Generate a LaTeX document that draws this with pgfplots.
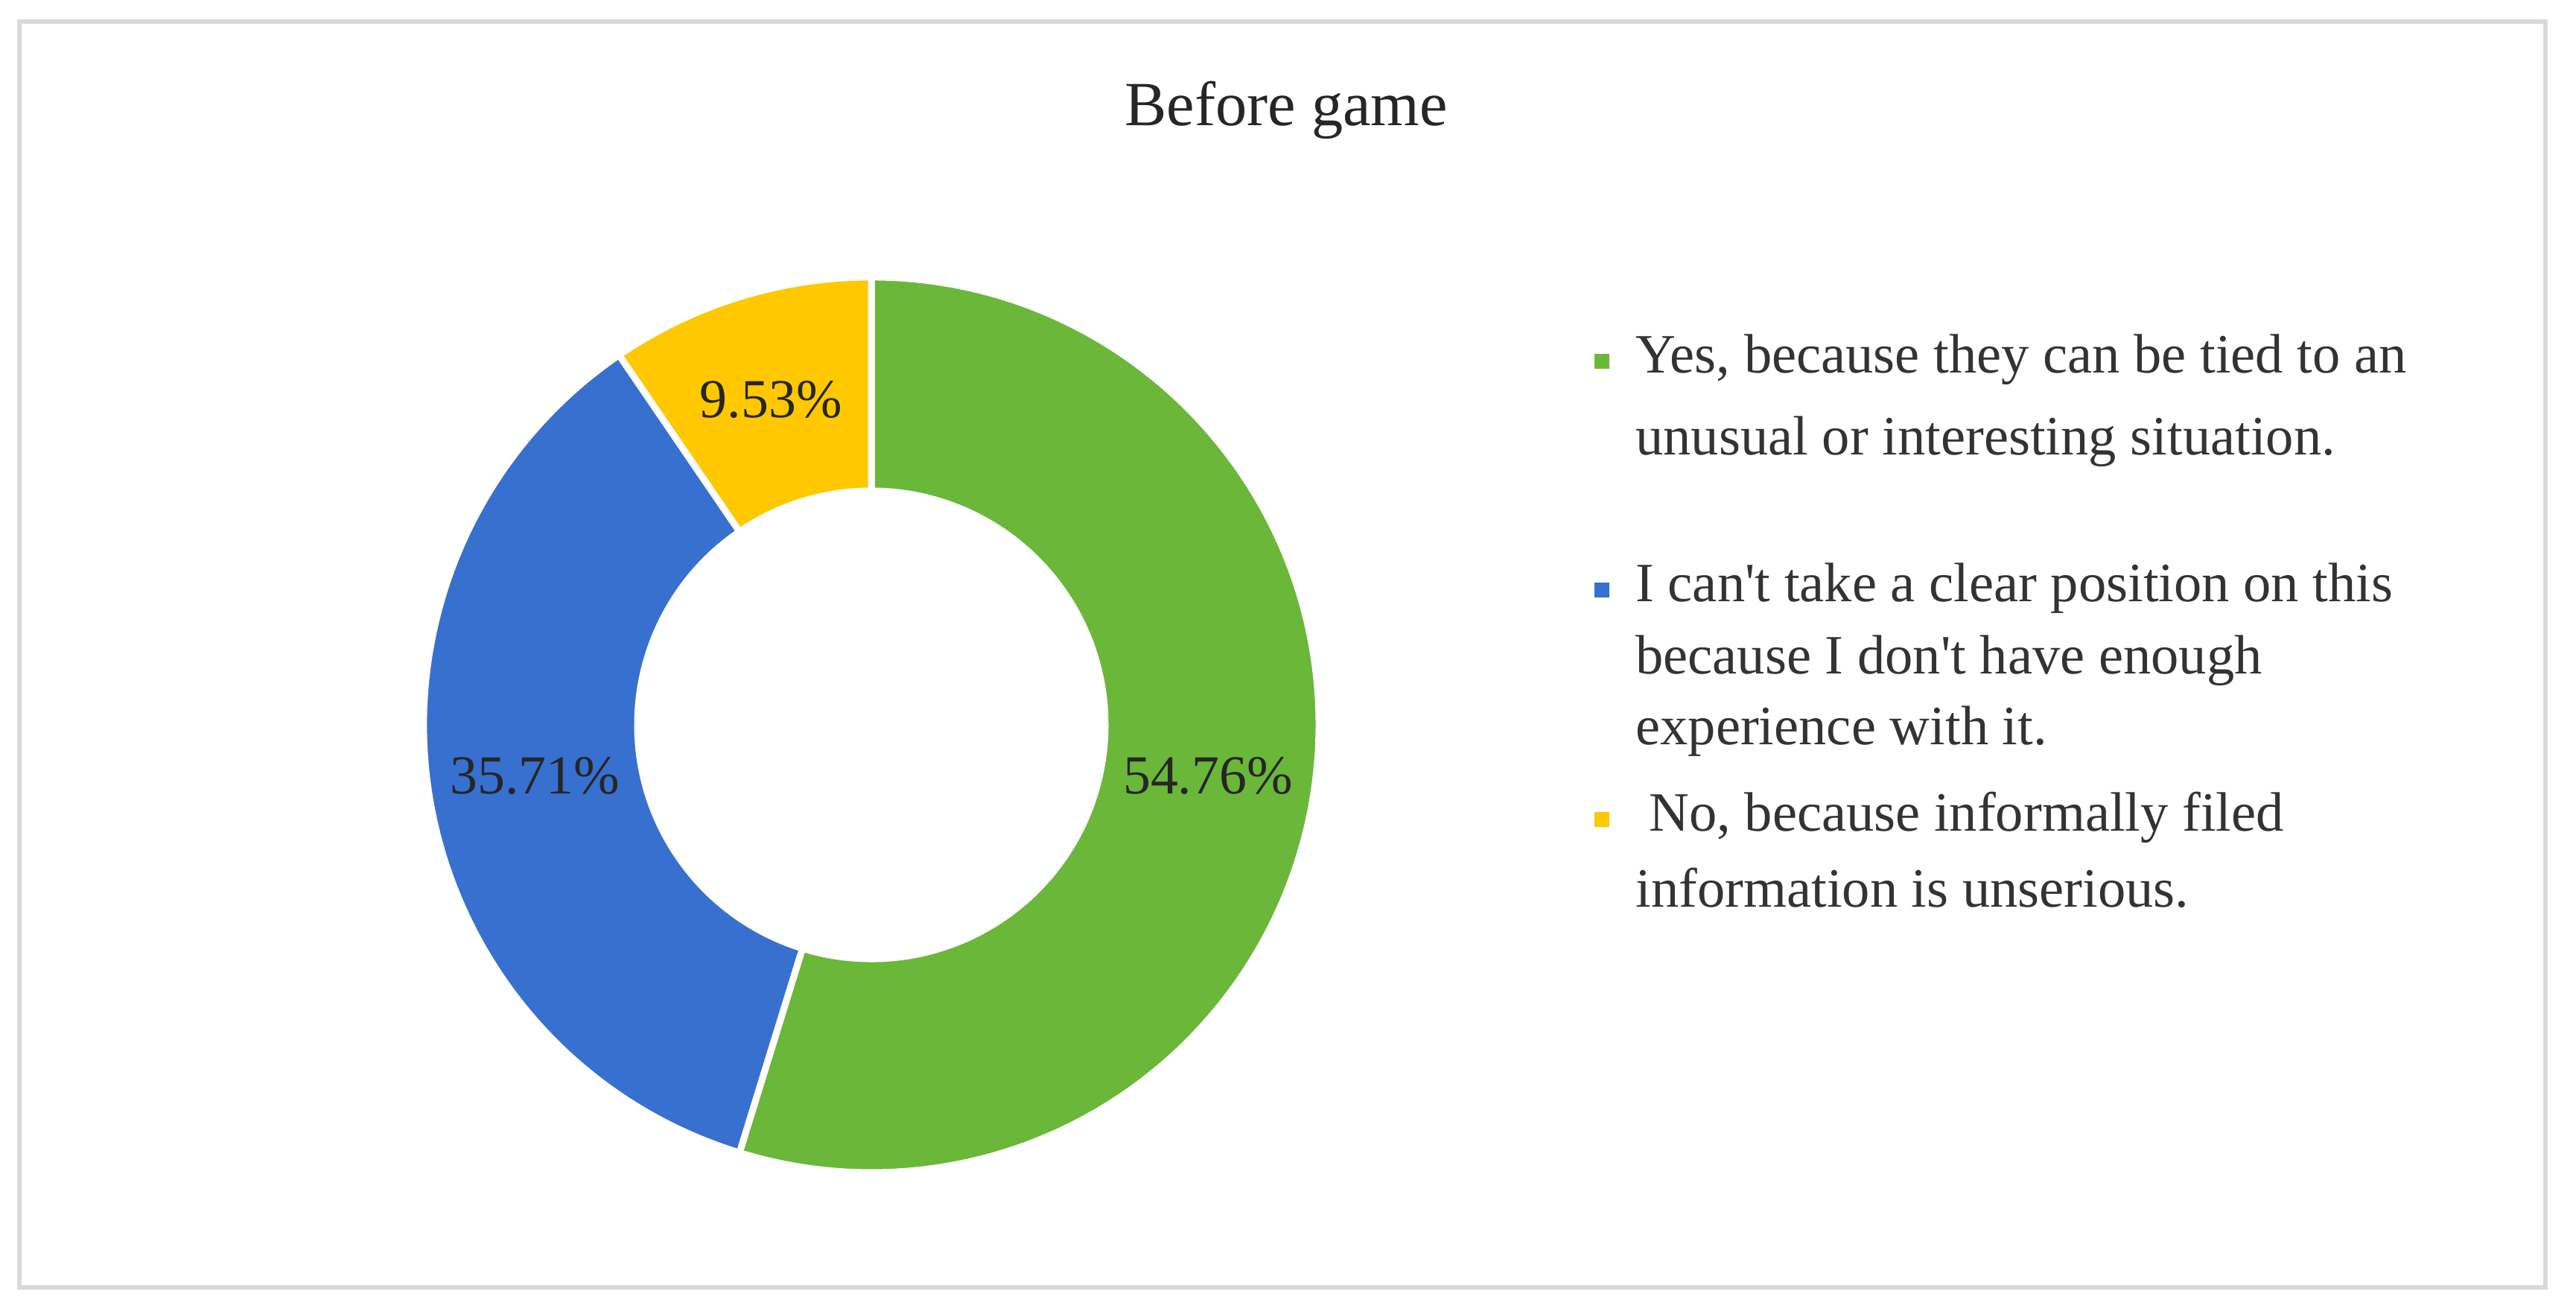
\documentclass[border=0pt]{standalone}
\usepackage{fontspec}
\setmainfont{Liberation Serif}
\usepackage{pgfplots}
\usepackage{pgfplotstable}
\pgfplotsset{compat=1.18}
\definecolor{ringgreen}{RGB}{107,183,57}
\definecolor{ringblue}{RGB}{55,112,207}
\definecolor{ringyellow}{RGB}{255,200,0}
\definecolor{framegray}{RGB}{217,217,217}

% shares of the answers, in percent, clockwise from the top
\pgfplotstableread{
answer value
yes    54.76
cant   35.71
no     9.53
}\donutdata

\pgfplotstablegetelem{0}{value}\of\donutdata \let\vA\pgfplotsretval
\pgfplotstablegetelem{1}{value}\of\donutdata \let\vB\pgfplotsretval
\pgfplotstablegetelem{2}{value}\of\donutdata \let\vC\pgfplotsretval
\pgfmathsetmacro\aA{90}
\pgfmathsetmacro\aB{\aA-3.6*\vA}
\pgfmathsetmacro\aC{\aB-3.6*\vB}
\pgfmathsetmacro\aD{\aC-3.6*\vC}
\pgfmathsetmacro\mA{(\aA+\aB)/2}
\pgfmathsetmacro\mB{(\aB+\aC)/2}
\pgfmathsetmacro\mC{(\aC+\aD)/2}

% ring geometry (axis units are pixels of the picture)
\def\cx{1170}\def\cy{776}
\def\Rout{30.05mm}\def\Rin{15.7mm}\def\Rmid{22.85mm}

\newcommand{\ringseg}[3]{%
  \fill[#3, draw=white, line width=0.45mm, line join=round]
    ([shift={(#1:\Rout)}]axis cs:\cx,\cy)
    arc[start angle=#1, end angle=#2, radius=\Rout]
    -- ([shift={(#2:\Rin)}]axis cs:\cx,\cy)
    arc[start angle=#2, end angle=#1, radius=\Rin] -- cycle;}

\begin{document}
\begin{tikzpicture}
\begin{axis}[
    x=0.05mm, y=0.05mm,
    xmin=0, xmax=3459, ymin=0, ymax=1749,
    hide axis, clip=false,
    scale only axis,
]
\path (axis cs:0,0) rectangle (axis cs:3459,1749);
\draw[framegray, line width=0.3mm] (axis cs:26,21) rectangle (axis cs:3418,1720);

\node[font=\fontsize{12}{14}\selectfont, text=black!85] at (axis cs:1727,1601) {Before game};

\ringseg{\aA}{\aB}{ringgreen}
\ringseg{\aB}{\aC}{ringblue}
\ringseg{\aC}{\aD}{ringyellow}

\begin{scope}[every node/.style={font=\fontsize{10.5}{12}\selectfont, text=black!85}]
\node at ([shift={(\mA:\Rmid)}]axis cs:\cx,\cy) {54.76\%};
\node at ([shift={(\mB:\Rmid)}]axis cs:\cx,\cy) {35.71\%};
\node at ([shift={(\mC:\Rmid)}]axis cs:\cx,\cy) {9.53\%};
\end{scope}

\begin{scope}[every node/.style={font=\fontsize{10.6}{12}\selectfont, text=black!80, anchor=west, inner sep=0pt, text height=1.5ex, text depth=0.3ex}]
\fill[ringgreen] (axis cs:2151,1264) ++(-0.5mm,-0.5mm) rectangle ++(1mm,1mm);
\fill[ringblue] (axis cs:2151,957) ++(-0.5mm,-0.5mm) rectangle ++(1mm,1mm);
\fill[ringyellow] (axis cs:2151,649) ++(-0.5mm,-0.5mm) rectangle ++(1mm,1mm);
\node at (axis cs:2195,1268) {Yes, because they can be tied to an};
\node at (axis cs:2195,1158) {unusual or interesting situation.};
\node at (axis cs:2195,961) {I can\textquotesingle t take a clear position on this};
\node at (axis cs:2195,864) {because I don\textquotesingle t have enough};
\node at (axis cs:2195,769) {experience with it.};
\node at (axis cs:2213,653) {No, because informally filed};
\node at (axis cs:2195,551) {information is unserious.};
\end{scope}
\end{axis}
\end{tikzpicture}
\end{document}
